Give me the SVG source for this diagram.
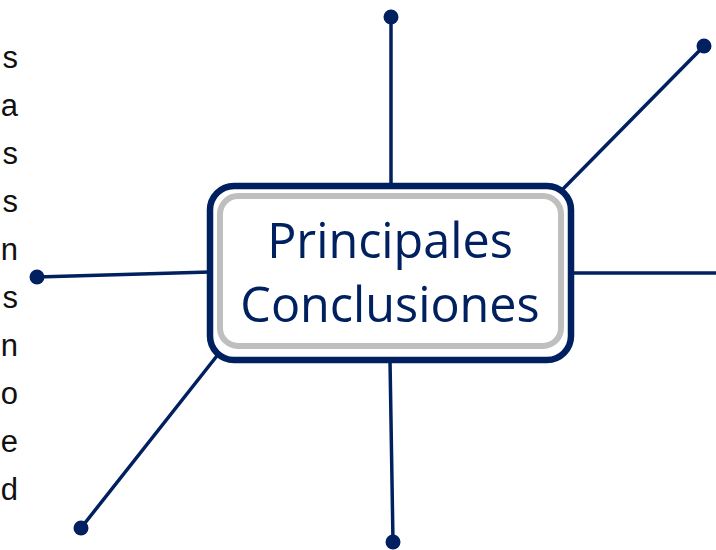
<svg xmlns="http://www.w3.org/2000/svg" width="716" height="550" viewBox="0 0 716 550">
<style>
.conn{stroke:#002060;stroke-width:3.5;fill:none;stroke-linecap:round}
.dot{fill:#002060}
.side{font-family:"Liberation Sans",Arial,sans-serif;font-size:31px;fill:#111111;text-anchor:end}
.title{font-family:"Open Sans","Noto Sans",sans-serif;font-size:48.5px;fill:#002060;text-anchor:middle}
</style>
<rect width="716" height="550" fill="#ffffff"/>
<g id="side-text">
<text class="side" x="18" y="68">s</text>
<text class="side" x="18" y="116">a</text>
<text class="side" x="18" y="164">s</text>
<text class="side" x="18" y="212">s</text>
<text class="side" x="18" y="260">n</text>
<text class="side" x="18" y="308">s</text>
<text class="side" x="18" y="356">n</text>
<text class="side" x="18" y="404">o</text>
<text class="side" x="18" y="452">e</text>
<text class="side" x="18" y="500">d</text>
</g>
<g id="connectors">
<line class="conn" x1="391" y1="17" x2="391" y2="186"/>
<line class="conn" x1="704" y1="46" x2="562" y2="190"/>
<line class="conn" x1="571" y1="273" x2="720" y2="273"/>
<line class="conn" x1="37" y1="277" x2="210" y2="272"/>
<line class="conn" x1="81" y1="528" x2="220" y2="352"/>
<line class="conn" x1="390" y1="360" x2="393" y2="542"/>
<circle class="dot" cx="391" cy="17" r="7.5"/>
<circle class="dot" cx="704" cy="46" r="7.5"/>
<circle class="dot" cx="37" cy="277" r="7.5"/>
<circle class="dot" cx="81" cy="528" r="7.5"/>
<circle class="dot" cx="393" cy="542" r="7.5"/>
</g>
<g id="center-node">
<rect x="210" y="186" width="361" height="174" rx="24" fill="#ffffff" stroke="#002060" stroke-width="6.5"/>
<rect x="220" y="196" width="341" height="150" rx="18" fill="#ffffff" stroke="#bfbfbf" stroke-width="6"/>
<text class="title" x="390" y="258">Principales</text>
<text class="title" x="390" y="322">Conclusiones</text>
</g>
</svg>
